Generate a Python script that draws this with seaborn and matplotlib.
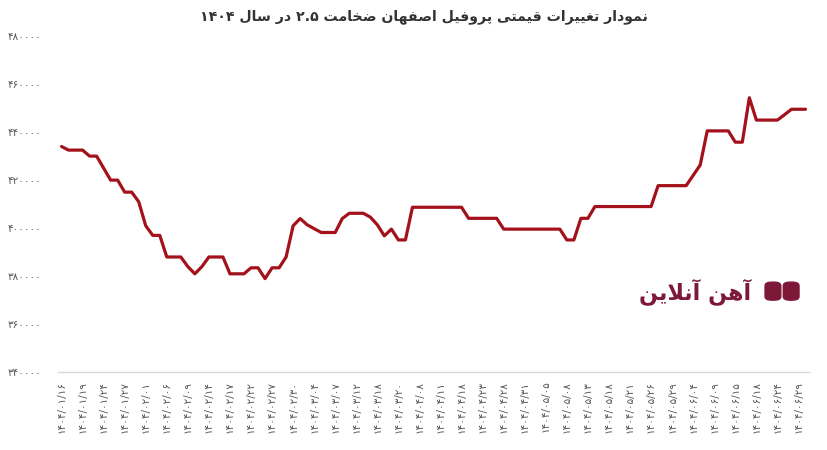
import re
import numpy as np
import pandas as pd
import matplotlib
matplotlib.use("Agg")
import matplotlib.pyplot as plt
import matplotlib.patches as mpatches
from matplotlib.ticker import FuncFormatter
import seaborn as sns

# chart text
title = "نمودار تغییرات قیمتی پروفیل اصفهان ضخامت ۲.۵ در سال ۱۴۰۴"
logo_text = "آهن آنلاین"

# tick labels (every third date)
date_labels = [
    "۱۴۰۴/۰۱/۱۶", "۱۴۰۴/۰۱/۱۹", "۱۴۰۴/۰۱/۲۴", "۱۴۰۴/۰۱/۲۷", "۱۴۰۴/۰۲/۰۱",
    "۱۴۰۴/۰۲/۰۶", "۱۴۰۴/۰۲/۰۹", "۱۴۰۴/۰۲/۱۴", "۱۴۰۴/۰۲/۱۷", "۱۴۰۴/۰۲/۲۲",
    "۱۴۰۴/۰۲/۲۷", "۱۴۰۴/۰۲/۳۰", "۱۴۰۴/۰۳/۰۴", "۱۴۰۴/۰۳/۰۷", "۱۴۰۴/۰۳/۱۲",
    "۱۴۰۴/۰۳/۱۸", "۱۴۰۴/۰۳/۲۰", "۱۴۰۴/۰۴/۰۸", "۱۴۰۴/۰۴/۱۱", "۱۴۰۴/۰۴/۱۸",
    "۱۴۰۴/۰۴/۲۳", "۱۴۰۴/۰۴/۲۸", "۱۴۰۴/۰۴/۳۱", "۱۴۰۴/۰۵/۰۵", "۱۴۰۴/۰۵/۰۸",
    "۱۴۰۴/۰۵/۱۳", "۱۴۰۴/۰۵/۱۸", "۱۴۰۴/۰۵/۲۱", "۱۴۰۴/۰۵/۲۶", "۱۴۰۴/۰۵/۲۹",
    "۱۴۰۴/۰۶/۰۴", "۱۴۰۴/۰۶/۰۹", "۱۴۰۴/۰۶/۱۵", "۱۴۰۴/۰۶/۱۸", "۱۴۰۴/۰۶/۲۴",
    "۱۴۰۴/۰۶/۲۹",
]

# price per day (rial)
prices = [
    434000, 432500, 432500, 432500, 430000, 430000, 425000, 420000, 420000, 415000,
    415000, 411000, 401000, 397000, 397000, 388000, 388000, 388000, 384000, 381000,
    384000, 388000, 388000, 388000, 381000, 381000, 381000, 383500, 383500, 379000,
    383500, 383500, 388000, 401000, 404000, 401400, 399800, 398200, 398200, 398200,
    404000, 406200, 406200, 406200, 404600, 401400, 396800, 399600, 395100, 395100,
    408700, 408700, 408700, 408700, 408700, 408700, 408700, 408700, 404100, 404100,
    404100, 404100, 404100, 399600, 399600, 399600, 399600, 399600, 399600, 399600,
    399600, 399600, 395100, 395100, 404100, 404100, 409000, 409000, 409000, 409000,
    409000, 409000, 409000, 409000, 409000, 417700, 417700, 417700, 417700, 417700,
    422000, 426300, 440500, 440500, 440500, 440500, 435800, 435800, 454300, 445000,
    445000, 445000, 445000, 447200, 449500, 449500, 449500,
]

y_ticks = [340000, 360000, 380000, 400000, 420000, 440000, 460000, 480000]

LINE_COLOR = "#a3111b"
LOGO_COLOR = "#7d1838"

# --- minimal Persian shaping (matplotlib has no bidi / joining) ---
FORMS = {
    "ا": ("\uFE8D", "\uFE8E", None, None),
    "آ": ("\uFE81", "\uFE82", None, None),
    "د": ("\uFEA9", "\uFEAA", None, None),
    "ر": ("\uFEAD", "\uFEAE", None, None),
    "و": ("\uFEED", "\uFEEE", None, None),
    "ت": ("\uFE95", "\uFE96", "\uFE97", "\uFE98"),
    "خ": ("\uFEA5", "\uFEA6", "\uFEA7", "\uFEA8"),
    "س": ("\uFEB1", "\uFEB2", "\uFEB3", "\uFEB4"),
    "ص": ("\uFEB9", "\uFEBA", "\uFEBB", "\uFEBC"),
    "ض": ("\uFEBD", "\uFEBE", "\uFEBF", "\uFEC0"),
    "غ": ("\uFECD", "\uFECE", "\uFECF", "\uFED0"),
    "ف": ("\uFED1", "\uFED2", "\uFED3", "\uFED4"),
    "ق": ("\uFED5", "\uFED6", "\uFED7", "\uFED8"),
    "ل": ("\uFEDD", "\uFEDE", "\uFEDF", "\uFEE0"),
    "م": ("\uFEE1", "\uFEE2", "\uFEE3", "\uFEE4"),
    "ن": ("\uFEE5", "\uFEE6", "\uFEE7", "\uFEE8"),
    "ه": ("\uFEE9", "\uFEEA", "\uFEEB", "\uFEEC"),
    "ی": ("\uFBFC", "\uFBFD", "\uFBFE", "\uFBFF"),
    "پ": ("\uFB56", "\uFB57", "\uFB58", "\uFB59"),
}
LAM_ALEF = {"ا": ("\uFEFB", "\uFEFC"), "آ": ("\uFEF5", "\uFEF6")}


def dual(c):
    return c in FORMS and FORMS[c][2] is not None


def shape(text):
    chars = list(text)
    out = []
    i = 0
    while i < len(chars):
        c = chars[i]
        if c not in FORMS:
            out.append(c)
            i += 1
            continue
        prev = chars[i - 1] if i > 0 else ""
        join_prev = dual(prev)
        if c == "ل" and i + 1 < len(chars) and chars[i + 1] in LAM_ALEF:
            iso, fin = LAM_ALEF[chars[i + 1]]
            out.append(fin if join_prev else iso)
            i += 2
            continue
        nxt = chars[i + 1] if i + 1 < len(chars) else ""
        join_next = dual(c) and nxt in FORMS
        iso, fin, ini, med = FORMS[c]
        if join_prev and join_next:
            out.append(med)
        elif join_next:
            out.append(ini)
        elif join_prev:
            out.append(fin)
        else:
            out.append(iso)
        i += 1
    # visual order: reverse, but keep number runs left-to-right
    tokens = re.findall(r"[0-9۰-۹][0-9۰-۹./]*|.", "".join(out))
    return "".join(reversed(tokens))


FA_DIGITS = str.maketrans("0123456789", "۰۱۲۳۴۵۶۷۸۹")

df = pd.DataFrame({"idx": np.arange(len(prices)), "price": prices})

sns.set_style("white")
plt.rcParams["font.family"] = ["DejaVu Sans"]

fig = plt.figure(figsize=(8.28, 4.5), dpi=100)
ax = fig.add_axes([58 / 828, 1 - 372.3 / 450, 751 / 828, 336.3 / 450])

sns.lineplot(data=df, x="idx", y="price", ax=ax, color=LINE_COLOR,
             linewidth=2.3, solid_joinstyle="round")

ax.set_xlim(-0.5, len(prices) - 0.5)
ax.set_ylim(340000, 480000)
ax.set_yticks(y_ticks)
ax.yaxis.set_major_formatter(FuncFormatter(lambda v, p: str(int(v)).translate(FA_DIGITS)))
ax.set_xticks(np.arange(0, len(prices), 3)[: len(date_labels)])
ax.set_xticklabels(date_labels, rotation=90)
ax.tick_params(axis="both", length=0, labelsize=7.5, labelcolor="#555555")
ax.tick_params(axis="y", pad=12)
ax.tick_params(axis="x", pad=6)
ax.set_xlabel("")
ax.set_ylabel("")
for side in ["top", "right", "left"]:
    ax.spines[side].set_visible(False)
ax.spines["bottom"].set_color("#d9d9d9")
ax.spines["bottom"].set_linewidth(1)

fig.text(0.512, 0.963, shape(title), ha="center", va="center",
         fontsize=10.2, fontweight="bold", color="#333333")

# watermark logo
fig.text(0.907, 0.352, shape(logo_text), ha="right", va="center",
         fontsize=16, fontweight="bold", color=LOGO_COLOR)
fig.patches.append(mpatches.FancyBboxPatch((0.924, 0.333), 0.019, 0.040,
                                           boxstyle="round,pad=0,rounding_size=0.008",
                                           transform=fig.transFigure, color=LOGO_COLOR))
fig.patches.append(mpatches.FancyBboxPatch((0.946, 0.333), 0.019, 0.040,
                                           boxstyle="round,pad=0,rounding_size=0.008",
                                           transform=fig.transFigure, color=LOGO_COLOR))

fig.savefig("out.png", dpi=100)
